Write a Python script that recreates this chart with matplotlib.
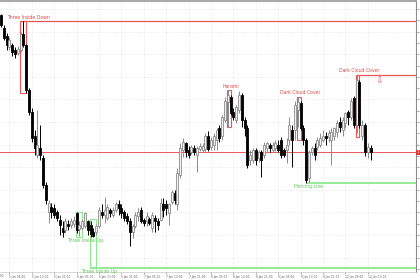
import numpy as np
import matplotlib.pyplot as plt
from matplotlib.patches import Rectangle
import matplotlib.transforms as mtransforms

# hourly bars, 5 Jan 02:00 .. 12 Jan 14:00
opens = [1.1995, 1.1983, 1.1976, 1.1966, 1.1968, 1.1964, 1.1961, 1.1964, 1.1978, 1.1968,
         1.1928, 1.1909, 1.1888, 1.1871, 1.1877, 1.1868, 1.1844, 1.1820, 1.1825, 1.1824,
         1.1820, 1.1813, 1.1806, 1.1804, 1.1810, 1.1809, 1.1810, 1.1819, 1.1805, 1.1806,
         1.1808, 1.1812, 1.1809, 1.1803, 1.1803, 1.1808, 1.1820, 1.1818, 1.1815, 1.1822,
         1.1818, 1.1822, 1.1827, 1.1824, 1.1820, 1.1817, 1.1812, 1.1803, 1.1808, 1.1817,
         1.1822, 1.1813, 1.1812, 1.1814, 1.1806, 1.1815, 1.1812, 1.1813, 1.1827, 1.1827,
         1.1819, 1.1829, 1.1837, 1.1827, 1.1853, 1.1875, 1.1881, 1.1875, 1.1873, 1.1877,
         1.1871, 1.1876, 1.1875, 1.1876, 1.1888, 1.1878, 1.1880, 1.1884, 1.1895, 1.1888,
         1.1902, 1.1918, 1.1922, 1.1909, 1.1902, 1.1911, 1.1924, 1.1902, 1.1895, 1.1866,
         1.1866, 1.1875, 1.1868, 1.1873, 1.1871, 1.1877, 1.1880, 1.1875, 1.1877, 1.1880,
         1.1884, 1.1875, 1.1875, 1.1884, 1.1893, 1.1893, 1.1911, 1.1917, 1.1895, 1.1884,
         1.1850, 1.1873, 1.1877, 1.1878, 1.1880, 1.1884, 1.1888, 1.1887, 1.1884, 1.1888,
         1.1891, 1.1900, 1.1893, 1.1899, 1.1909, 1.1904, 1.1921, 1.1897, 1.1935, 1.1888,
         1.1897, 1.1873, 1.1877]
highs = [1.1996, 1.1986, 1.1979, 1.1975, 1.1970, 1.1966, 1.1967, 1.1980, 1.1989, 1.1969,
         1.1930, 1.1912, 1.1893, 1.1911, 1.1897, 1.1871, 1.1847, 1.1831, 1.1828, 1.1827,
         1.1822, 1.1818, 1.1812, 1.1815, 1.1813, 1.1815, 1.1817, 1.1820, 1.1812, 1.1813,
         1.1820, 1.1813, 1.1812, 1.1806, 1.1810, 1.1825, 1.1827, 1.1834, 1.1827, 1.1824,
         1.1825, 1.1829, 1.1831, 1.1827, 1.1822, 1.1819, 1.1815, 1.1810, 1.1820, 1.1824,
         1.1825, 1.1815, 1.1820, 1.1816, 1.1820, 1.1818, 1.1815, 1.1833, 1.1833, 1.1831,
         1.1828, 1.1840, 1.1840, 1.1859, 1.1881, 1.1886, 1.1882, 1.1879, 1.1880, 1.1880,
         1.1879, 1.1881, 1.1881, 1.1890, 1.1892, 1.1887, 1.1890, 1.1895, 1.1897, 1.1906,
         1.1922, 1.1928, 1.1924, 1.1912, 1.1915, 1.1927, 1.1926, 1.1904, 1.1897, 1.1875,
         1.1877, 1.1877, 1.1875, 1.1875, 1.1882, 1.1882, 1.1881, 1.1882, 1.1884, 1.1884,
         1.1887, 1.1877, 1.1886, 1.1904, 1.1897, 1.1919, 1.1922, 1.1919, 1.1897, 1.1886,
         1.1875, 1.1879, 1.1881, 1.1887, 1.1890, 1.1893, 1.1891, 1.1893, 1.1895, 1.1896,
         1.1902, 1.1904, 1.1904, 1.1909, 1.1911, 1.1921, 1.1923, 1.1942, 1.1937, 1.1902,
         1.1899, 1.1881, 1.1880]
lows = [1.1984, 1.1973, 1.1964, 1.1964, 1.1958, 1.1957, 1.1959, 1.1962, 1.1966, 1.1926,
        1.1906, 1.1882, 1.1871, 1.1868, 1.1866, 1.1842, 1.1827, 1.1811, 1.1815, 1.1815,
        1.1812, 1.1800, 1.1798, 1.1802, 1.1804, 1.1806, 1.1807, 1.1802, 1.1799, 1.1804,
        1.1806, 1.1800, 1.1798, 1.1798, 1.1800, 1.1806, 1.1815, 1.1811, 1.1813, 1.1816,
        1.1816, 1.1820, 1.1818, 1.1815, 1.1812, 1.1810, 1.1790, 1.1797, 1.1806, 1.1812,
        1.1811, 1.1808, 1.1808, 1.1809, 1.1803, 1.1803, 1.1804, 1.1812, 1.1816, 1.1818,
        1.1809, 1.1827, 1.1827, 1.1822, 1.1850, 1.1869, 1.1869, 1.1868, 1.1872, 1.1871,
        1.1856, 1.1874, 1.1873, 1.1873, 1.1874, 1.1875, 1.1875, 1.1875, 1.1882, 1.1884,
        1.1900, 1.1896, 1.1906, 1.1902, 1.1899, 1.1908, 1.1896, 1.1888, 1.1859, 1.1862,
        1.1864, 1.1862, 1.1865, 1.1851, 1.1868, 1.1873, 1.1873, 1.1873, 1.1874, 1.1873,
        1.1868, 1.1869, 1.1864, 1.1880, 1.1860, 1.1884, 1.1896, 1.1893, 1.1880, 1.1846,
        1.1847, 1.1871, 1.1866, 1.1875, 1.1878, 1.1882, 1.1880, 1.1882, 1.1862, 1.1884,
        1.1887, 1.1891, 1.1888, 1.1895, 1.1897, 1.1902, 1.1895, 1.1890, 1.1895, 1.1884,
        1.1870, 1.1868, 1.1866]
closes = [1.1986, 1.1974, 1.1968, 1.1973, 1.1962, 1.1960, 1.1965, 1.1978, 1.1968, 1.1928,
          1.1909, 1.1886, 1.1877, 1.1880, 1.1871, 1.1844, 1.1831, 1.1828, 1.1820, 1.1818,
          1.1815, 1.1809, 1.1803, 1.1812, 1.1808, 1.1812, 1.1813, 1.1804, 1.1809, 1.1812,
          1.1819, 1.1804, 1.1801, 1.1799, 1.1808, 1.1822, 1.1818, 1.1822, 1.1825, 1.1819,
          1.1822, 1.1827, 1.1824, 1.1819, 1.1815, 1.1812, 1.1803, 1.1808, 1.1818, 1.1820,
          1.1812, 1.1811, 1.1817, 1.1811, 1.1818, 1.1812, 1.1809, 1.1828, 1.1822, 1.1824,
          1.1827, 1.1838, 1.1831, 1.1855, 1.1877, 1.1882, 1.1873, 1.1871, 1.1878, 1.1873,
          1.1877, 1.1879, 1.1879, 1.1888, 1.1876, 1.1884, 1.1888, 1.1893, 1.1886, 1.1904,
          1.1919, 1.1924, 1.1908, 1.1904, 1.1913, 1.1924, 1.1902, 1.1895, 1.1862, 1.1871,
          1.1875, 1.1866, 1.1873, 1.1866, 1.1880, 1.1881, 1.1877, 1.1880, 1.1881, 1.1875,
          1.1871, 1.1871, 1.1880, 1.1897, 1.1884, 1.1915, 1.1918, 1.1895, 1.1884, 1.1849,
          1.1873, 1.1877, 1.1871, 1.1884, 1.1886, 1.1888, 1.1886, 1.1890, 1.1891, 1.1895,
          1.1899, 1.1896, 1.1902, 1.1908, 1.1904, 1.1919, 1.1897, 1.1937, 1.1897, 1.1897,
          1.1873, 1.1878, 1.1873]

time_ticks = [3, 11, 19, 27, 35, 43, 51, 59, 67, 75, 83, 91, 99, 107, 115, 123, 131]
time_labels = ["5 Jan 05:00", "5 Jan 13:00", "5 Jan 21:00", "6 Jan 05:00", "6 Jan 13:00",
               "6 Jan 21:00", "7 Jan 05:00", "7 Jan 13:00", "7 Jan 21:00", "8 Jan 05:00",
               "8 Jan 13:00", "8 Jan 21:00", "9 Jan 05:00", "9 Jan 13:00", "9 Jan 21:00",
               "12 Jan 05:00", "12 Jan 13:00"]

# candle patterns: name, first bar, last bar, top, bottom, bearish?
pat_names = ["Three Inside Down", "Harami", "Dark Cloud Cover", "Dark Cloud Cover",
             "Three Inside Up", "Three Inside Up", "Piercing Line"]
pat_first = [7, 81, 106, 127, 27, 32, 109]
pat_last = [9, 82, 107, 128, 29, 34, 110]
pat_top = [1.1989, 1.1928, 1.1922, 1.1942, 1.1820, 1.1814, 1.1846]
pat_bottom = [1.1926, 1.1896, 1.1884, 1.1887, 1.1798, 1.1771, 1.1846]
pat_bear = [True, True, True, True, False, False, False]
pat_level = [1.1989, None, None, 1.1942, None, 1.1771, 1.1846]
pat_label_bar = [10, 82, 107, 128, 30, 35, 110]

bid = closes[-1]

RED = "#e85858"
GREEN = "#8ee88e"
GREY = "#8c8c8c"

fig = plt.figure(figsize=(4.2, 2.8), dpi=100)
ax = fig.add_axes([0, 8 / 280, 416 / 420, 271 / 280])

n = len(opens)
xs = np.arange(n)
o = np.array(opens)
c = np.array(closes)
bull = c >= o

# grid
for v in np.arange(1.1780, 1.20005, 0.0020):
    ax.axhline(v, color="#d8d8d8", lw=0.5, ls=(0, (1, 2)), zorder=0)
for t in time_ticks:
    ax.axvline(t, color="#d8d8d8", lw=0.5, ls=(0, (1, 2)), zorder=0)

# pattern boxes and levels
for k in range(len(pat_names)):
    col = RED if pat_bear[k] else GREEN
    x0 = pat_first[k] - 0.25
    w = pat_last[k] - pat_first[k] + 0.25
    if pat_top[k] != pat_bottom[k]:
        ax.add_patch(Rectangle((x0, pat_bottom[k]), w, pat_top[k] - pat_bottom[k],
                               fill=False, edgecolor=col, lw=0.8, zorder=1))
    if pat_level[k] is not None:
        ax.plot([pat_first[k] + (0 if pat_bear[k] else 0.5), 200], [pat_level[k]] * 2,
                color=col, lw=0.9 if pat_bear[k] else 1.3, zorder=1)
    if pat_bear[k]:
        ax.annotate(pat_names[k], (pat_label_bar[k], pat_top[k]), xytext=(0, 1.2),
                    textcoords="offset points", ha="center", va="bottom",
                    fontsize=3.3, color="#e04848", zorder=5)
    else:
        ax.annotate(pat_names[k], (pat_label_bar[k], pat_bottom[k]), xytext=(0, -0.6),
                    textcoords="offset points", ha="center", va="top",
                    fontsize=3.3, color="#5cc85c", zorder=5, annotation_clip=False)

# sell arrow after the last dark cloud cover
ax.text(135, 1.1936, "\u21e9", color=RED, fontsize=6.5, ha="center", va="center")

# bid line
ax.axhline(bid, color=RED, lw=0.7, zorder=1)

# candles
wick_col = np.where(bull, GREY, "black")
ax.vlines(xs, lows, highs, colors=wick_col, lw=0.7, zorder=2)
body_h = np.abs(c - o)
body_h = np.where(body_h < 0.00005, 0.00005, body_h)
ax.bar(xs, body_h, bottom=np.minimum(o, c), width=0.72,
       color=np.where(bull, "#f2f2f2", "black"),
       edgecolor=np.where(bull, GREY, "black"), lw=0.6, zorder=3)

ax.set_xlim(-1 / 2.8, 415 / 2.8)
ax.set_ylim(1.17672, 1.20071)

ax.yaxis.tick_right()
yt = np.arange(1.1770, 1.20005, 0.0010)
ax.set_yticks(yt)
ax.set_yticklabels([f"{v:.4f}" for v in yt], fontsize=2.4, color="#606060")
ax.tick_params(axis="y", length=2, width=0.5, color=GREY, pad=1)

ax.set_xticks(time_ticks)
ax.set_xticklabels(time_labels, fontsize=2.1, color="#606060", ha="left")
ax.tick_params(axis="x", length=1.5, width=0.5, color=GREY, pad=1)
trans = mtransforms.blended_transform_factory(ax.transData, ax.transAxes)
ax.text(-5, -0.006, "4 Jan 21:00", transform=trans, fontsize=2.1, color="#606060",
        ha="left", va="top", clip_on=False)

# bid price box on the scale
ax.text(1.002, bid, f"{bid:.4f}", transform=ax.get_yaxis_transform(), fontsize=2.4,
        color="white", va="center", ha="left",
        bbox=dict(boxstyle="square,pad=0.25", fc="#d83838", ec="none"), clip_on=False)

ax.spines["left"].set_visible(False)
ax.spines["top"].set_color("#a8a8a8")
ax.spines["top"].set_linewidth(1.5)
ax.spines["right"].set_color(GREY)
ax.spines["right"].set_linewidth(0.8)
ax.spines["bottom"].set_color("#c8c8c8")
ax.spines["bottom"].set_linewidth(0.5)

fig.savefig("out.png", dpi=100)
